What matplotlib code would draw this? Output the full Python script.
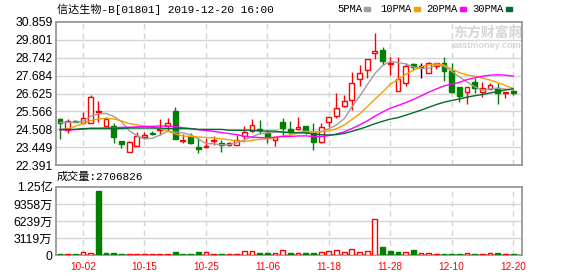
import numpy as np
import pandas as pd
import matplotlib
matplotlib.use('Agg')
import matplotlib.pyplot as plt
from matplotlib.patches import Rectangle

plt.rcParams['font.family'] = ['Liberation Sans', 'Noto Sans CJK SC']

# daily K-line, 2019-09-26 .. 2019-12-20 (HKD)
opens = [25.12, 24.47, 25.01, 24.87, 24.87, 25.50, 24.73, 24.73, 23.82, 23.15,
         23.53, 24.05, 24.30, 24.47, 24.73, 25.60, 23.80, 24.08, 23.43, 23.45,
         23.82, 23.68, 23.55, 23.59, 24.08, 24.41, 24.51, 24.28, 23.90, 24.91,
         24.51, 24.53, 24.71, 24.28, 23.78, 24.91, 25.30, 25.89, 26.25, 27.47,
         28.02, 29.01, 29.20, 28.36, 26.80, 27.27, 28.37, 28.22, 27.86, 28.28,
         28.41, 27.98, 26.99, 26.70, 27.33, 26.70, 26.88, 26.94, 26.68, 26.76]
highs = [25.20, 25.10, 25.06, 25.52, 26.56, 26.19, 25.22, 24.87, 23.82, 23.84,
         24.34, 24.37, 24.40, 25.10, 25.20, 25.85, 24.22, 24.28, 23.98, 23.98,
         24.08, 23.88, 23.75, 24.18, 24.71, 25.12, 25.06, 24.47, 24.02, 25.20,
         24.97, 25.22, 24.71, 24.87, 24.87, 25.22, 26.64, 26.54, 27.88, 28.32,
         28.65, 30.23, 29.36, 28.81, 28.77, 28.45, 28.45, 28.45, 28.51, 28.45,
         28.77, 28.41, 26.99, 26.99, 27.53, 27.33, 27.23, 27.23, 26.74, 26.90]
lows = [23.92, 24.31, 24.91, 24.87, 24.85, 24.91, 24.70, 23.68, 23.39, 23.15,
        23.53, 23.92, 24.17, 24.18, 24.40, 23.94, 23.72, 23.66, 23.13, 23.39,
        23.59, 23.19, 23.49, 23.55, 23.88, 24.37, 24.24, 23.72, 23.49, 24.18,
        24.18, 24.47, 24.24, 23.29, 23.72, 24.67, 25.16, 25.81, 25.65, 27.04,
        27.53, 28.65, 28.32, 27.72, 26.80, 27.04, 28.02, 27.53, 27.86, 28.06,
        27.39, 26.64, 26.15, 26.01, 26.68, 26.44, 26.88, 26.01, 26.38, 26.54]
closes = [24.87, 24.97, 24.93, 25.16, 26.44, 25.60, 25.10, 24.04, 23.63, 23.74,
          24.12, 24.14, 24.24, 24.55, 24.87, 23.94, 23.86, 23.68, 23.35, 23.49,
          23.86, 23.55, 23.72, 23.88, 24.37, 24.77, 24.47, 24.00, 24.02, 24.57,
          24.35, 24.65, 24.37, 23.78, 24.67, 25.22, 25.79, 26.19, 27.23, 27.82,
          28.65, 29.14, 28.57, 28.45, 27.47, 28.26, 28.22, 28.22, 28.41, 28.41,
          27.98, 26.70, 26.50, 26.99, 26.94, 26.95, 27.11, 26.68, 26.74, 26.68]
# volume in 万股
volumes = [190, 190, 190, 500, 370, 11790, 370, 370, 190, 190,
           190, 190, 190, 250, 190, 560, 190, 190, 560, 500,
           190, 190, 190, 190, 690, 690, 370, 370, 370, 870,
           370, 320, 370, 370, 500, 690, 870, 500, 1050, 500,
           690, 6580, 1550, 740, 560, 500, 930, 370, 370, 190,
           190, 190, 190, 370, 190, 190, 370, 370, 190, 270.6826]

# moving-average values before enough closes exist
ma5_head = [24.90, 24.92, 24.93, 24.97]
ma10_head = [24.47, 24.55, 24.68, 24.85, 25.02, 25.12, 25.15, 25.12, 25.00]
ma20_head = [24.47, 24.47, 24.49, 24.51, 24.57, 24.57, 24.59, 24.60, 24.62, 24.63,
             24.65, 24.67, 24.68, 24.70, 24.70, 24.66, 24.60, 24.54, 24.48]
ma30_head = [24.50, 24.50, 24.50, 24.55, 24.55, 24.55, 24.55, 24.55, 24.55, 24.58,
             24.58, 24.58, 24.58, 24.58, 24.55, 24.55, 24.55, 24.55, 24.50, 24.50,
             24.50, 24.50, 24.45, 24.45, 24.45, 24.45, 24.40, 24.40, 24.40]

tick_idx = [3, 11, 19, 27, 35, 43, 51, 59]
tick_labels = ['10-02', '10-15', '10-25', '11-06', '11-18', '11-28', '12-10', '12-20']
price_ticks = [22.391, 23.449, 24.508, 25.566, 26.625, 27.684, 28.742, 29.801, 30.859]
vol_ticks = [0, 3119, 6239, 9358, 12478]
vol_tick_labels = ['0', '3119万', '6239万', '9358万', '1.25亿']

RED = '#ff0000'
GREEN = '#008000'
GRID = '#d4d4d4'
FRAME = '#999999'

W, H = 578, 276
def box(l, t, r, b):
    return [l / W, 1 - b / H, (r - l) / W, (b - t) / H]

fig = plt.figure(figsize=(W / 100, H / 100), dpi=100)
ax = fig.add_axes(box(56, 22, 522, 165))
axv = fig.add_axes(box(56, 187, 522, 255))

o, h, l, c = map(np.array, (opens, highs, lows, closes))
x = np.arange(len(c))
cand_col = np.where(c > o, RED, np.where(c < o, GREEN, 'black'))

ax.vlines(x, l, h, colors=cand_col, lw=1, zorder=3)
body_bot = np.minimum(o, c)
body_h = np.maximum(np.abs(c - o), 0.02)
face = np.where(c > o, 'white', cand_col)
ax.bar(x, body_h, bottom=body_bot, width=0.62, color=face, edgecolor=cand_col,
       linewidth=1, zorder=4)

cs = pd.Series(closes)
def moving(n, head):
    m = cs.rolling(n).mean().to_numpy()
    m[:n - 1] = head
    return m

ma_cols = ['#9e9e9e', '#f5a000', '#ff00ff', '#006b2e']
for n, head, col in zip([5, 10, 20, 30], [ma5_head, ma10_head, ma20_head, ma30_head], ma_cols):
    ax.plot(x, moving(n, head), color=col, lw=1, zorder=5)

# volume: red when close >= previous close
prev = np.r_[o[0], c[:-1]]
vcol = np.where(c >= prev, RED, GREEN)
vface = np.where(c >= prev, 'white', GREEN)
axv.bar(x, volumes, width=0.62, color=vface, edgecolor=vcol, linewidth=1, zorder=3)

xmin = -4 / 7.68
for a in (ax, axv):
    a.set_xlim(xmin, xmin + 466 / 7.68)
    a.set_xticks(tick_idx)
    for t in tick_idx:
        a.axvline(t, color=GRID, lw=1, ls=(0, (4, 3)), zorder=1)
    for s in a.spines.values():
        s.set_color(FRAME)
        s.set_linewidth(1.3)
    a.tick_params(length=0, labelsize=8.8, pad=2.5)

ax.set_ylim(price_ticks[0], price_ticks[-1])
ax.set_yticks(price_ticks)
ax.set_yticklabels(['%.3f' % v for v in price_ticks])
for v in price_ticks[1:-1]:
    ax.axhline(v, color=GRID, lw=1, zorder=1)
ax.set_xticklabels([])

axv.set_ylim(0, vol_ticks[-1])
axv.set_yticks(vol_ticks)
axv.set_yticklabels(vol_tick_labels)
for v in vol_ticks[1:-1]:
    axv.axhline(v, color=GRID, lw=1, zorder=1)
axv.set_xticklabels(tick_labels, color=RED, fontsize=7.2)
axv.tick_params(axis='x', pad=5)

mono = ['Liberation Mono', 'Noto Sans CJK SC']
fig.text(57 / W, 1 - 9 / H, '信达生物-B[01801] 2019-12-20 16:00', family=mono,
         fontsize=8, va='center', ha='left')
fig.text(57 / W, 1 - 177 / H, '成交量:%d' % round(volumes[-1] * 10000), family=mono,
         fontsize=8, va='center', ha='left')

legend_x = [337, 380, 426, 472]
for lx, n, col in zip(legend_x, [5, 10, 20, 30], ma_cols):
    label = '%dPMA' % n
    fig.text(lx / W, 1 - 9 / H, label, family=mono, fontsize=7.6, va='center', ha='left')
    sq = lx + len(label) * 6.1 + 3
    fig.patches.append(Rectangle((sq / W, 1 - 11 / H), 6 / W, 4 / H,
                                 transform=fig.transFigure, color=col))

# watermark, behind the candles
ax.text(488 / W, 1 - 33 / H, '东方财富网', family=['Noto Sans CJK SC'], fontsize=10,
        fontweight='bold', color='#d6d6d6', ha='center', va='center',
        transform=fig.transFigure, zorder=0.5)
ax.text(487 / W, 1 - 45 / H, 'eastmoney.com', fontsize=6.6, fontweight='bold',
        color='#d6d6d6', ha='center', va='center', transform=fig.transFigure, zorder=0.5)

fig.savefig('out.png', dpi=100)
